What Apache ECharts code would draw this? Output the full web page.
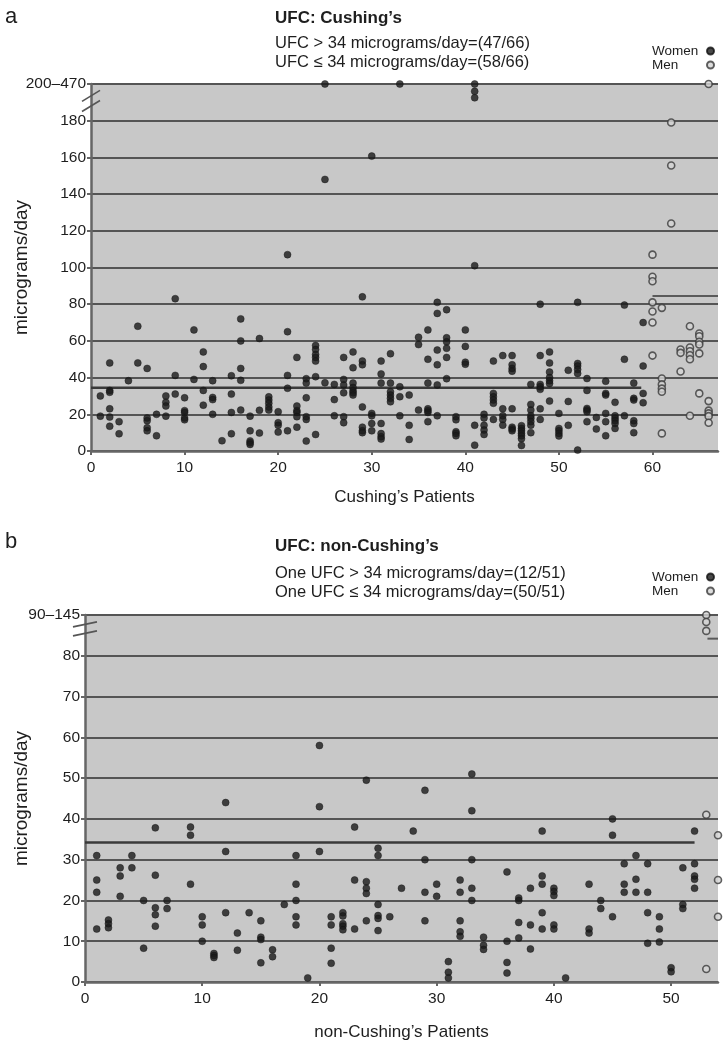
<!DOCTYPE html>
<html>
<head>
<meta charset="utf-8">
<script src="https://cdn.jsdelivr.net/npm/echarts@6/dist/echarts.min.js"></script>
<style>
html,body{margin:0;padding:0;background:#fff;}
#chart{width:728px;height:1050px;}
</style>
</head>
<body>
<div id="chart"></div>
<script>
// ---------- DATA ----------
// Panel a: Cushing's patients. Each entry: [patient, [UFC values]]; 200 = plotted at the 200–470 break line
const cushingWomen = [
  [1,[30,19]],[2,[48,33,32,23,18.5,13.5]],[3,[16,9.4]],[4,[38.3]],[5,[68,48]],
  [6,[45,18,16.5,12.7,11]],[7,[20,8.3]],[8,[30,26.5,24.5,19]],[9,[83,41.2,31]],
  [10,[29,22,21,18,17]],[11,[66,39]],[12,[54,46,33,25]],[13,[38.3,29.2,28,20]],
  [14,[5.6]],[15,[41,31,21,9.4]],[16,[72,60,45,38.5,22.3]],[17,[19,11,5.5,4.5,3.6]],
  [18,[61.3,22.2,9.8]],[19,[29.5,27.8,26,24,22.3]],[20,[21.4,15.4,14,10.3]],
  [21,[107,65,41.2,34.2,11]],[22,[51,24.5,22,21,18.7,13]],[23,[39.4,37,29,18.7,17.2,5.4]],
  [24,[57.5,55.3,52.6,51,49,40.5,9]],[25,[200,148,37.2]],[26,[36.3,28,19.2]],
  [27,[51,39,36,31.7,18.7,15.4]],[28,[54,45.4,37,34.6,32.8,31.7,30.5]],
  [29,[84,49,47,24,13,11,10]],[30,[160.7,20.5,19.2,15,11]],[31,[49,42,37,15,9.5,7.8,6.5]],
  [32,[53,37,32.3,30.5,28.7,26.8]],[33,[200,35,29.6,19.2]],[34,[30.5,14,6.3]],
  [35,[62,58,22.3]],[36,[66,50,37,23,22,21,16]],[37,[81,75,55,47,36,19.2]],
  [38,[77,61.7,59.5,56,51,39.4]],[39,[18.7,17,10.5,9.6,8.3]],[40,[66,57,48.4,47.3]],
  [41,[200,196,192.5,101,14,3.2]],[42,[20,18,14,11.4,9]],[43,[49,31.4,29.5,27.8,26,17.2]],
  [44,[52,23,19.2,17.2,14.1]],[45,[52,47,45,43.5,23,13,12,11]],[46,[13.8,12.3,11,9.6,8.3,6.7,3]],
  [47,[36.3,25.4,22.3,19.2,17.8,16,14.1,10]],[48,[80,52,36.3,35,33.6,23,17.2]],
  [49,[54,48,43,40,38.3,36.8,27.2]],[50,[20.5,12.3,11,9.6,8.2]],[51,[44,27,14]],
  [52,[81,47.7,46.3,44.4,42.3,0.5]],[53,[39.5,33,23.2,22.3,21.4,16]],[54,[18.3,12]],
  [55,[38,31.4,30.5,20.5,16,8.3]],[56,[26.5,19.2,17.8,16.5,15,12.3]],[57,[79.5,50,19.2]],
  [58,[37,28.7,27.8,16.5,15,10]],[59,[70,46.3,31.4,26.3]]
];
const cushingMen = [
  [60,[107,95,92.5,81,76,70,52]],[61,[78,39.5,36.3,34,32.3,9.6]],[62,[179,155.6,124]],
  [63,[55.3,53.5,43.3]],[64,[68,56.4,54.4,52.2,50,19.2]],[65,[64,62.5,59.5,58,53.2,31.4]],
  [66,[200,27.2,22,20.5,19,15.4]]
];
const cushingWomenCut = [[0,34.5],[58.8,34.5]];
const cushingMenCut = [[60,84.5],[67,84.5]];
const cushingYTicks = {max:200, interval:20, breakLabel:'200–470'};
const cushingXMax = 67;

// Panel b: non-Cushing's patients; 90 = plotted at the 90–145 break line
const nonCushingWomen = [
  [1,[31,25,22,13]],[2,[15.2,14.3,13.3]],[3,[28,26,21]],[4,[31,28]],[5,[20,8.3]],
  [6,[37.8,26.2,18.2,16.5,13.7]],[7,[20,18]],[9,[38,36,24]],[10,[16,14,10]],
  [11,[7,6.5,6]],[12,[44,32,17]],[13,[12,7.8]],[14,[17]],[15,[15,11,10.4,4.7]],
  [16,[7.9,6.2]],[17,[19]],[18,[31,24,20,16,14]],[19,[1]],[20,[58,43,32]],
  [21,[16,14,8.3,4.6]],[22,[17,16.2,14.3,13.7,12.8]],[23,[38,25,13]],
  [24,[49.5,24.6,23,21.7,15]],[25,[32.8,31,19,16.3,15.6,12.6]],[26,[16]],[27,[23]],
  [28,[37]],[29,[47,30,22,15]],[30,[24,21]],[31,[5,2.4,1]],[32,[25,22,15,12.3,11.2]],
  [33,[51,42,30,23,20]],[34,[11,9,8]],[36,[27,10,4.8,2.2]],[37,[20.6,20,14.6,10.8]],
  [38,[23,14,8.1]],[39,[37,26,24,17,13]],[40,[23,22.2,21.2,14,13]],[41,[1]],
  [43,[24,13,12]],[44,[20,18]],[45,[40,36,16]],[46,[29,24,22]],[47,[31,25.2,22]],
  [48,[29,22,17,9.5]],[49,[16,13,9.8]],[50,[3.5,2.5]],[51,[28,19,18]],[52,[37,29,26,25.2,23]]
];
const nonCushingMen = [[53,[90,88.3,86.1,41,3.2]],[54,[36,25,16]]];
const nonCushingWomenCut = [[0,34.2],[52,34.2]];
const nonCushingMenCut = [[53.1,84.2],[54,84.2]];
const nonCushingYTicks = {max:90, interval:10, breakLabel:'90–145'};
const nonCushingXMax = 54;

// ---------- helpers ----------
function flat(list){ const out=[]; list.forEach(([p,vals])=>vals.forEach(v=>out.push([p,v]))); return out; }

const FONT = '"Liberation Sans", Arial, sans-serif';
const TXT = '#1e1e1e';
const GRIDC = '#555';
const womenStyle = {color:'#1a1a1a', borderColor:'#111', borderWidth:0.5};
const menStyle = {color:'#d4d4d4', borderColor:'#3a3a3a', borderWidth:1.6};

function yAxisCfg(gi, t, gap){
  return {
    gridIndex:gi, type:'value', min:0, max:t.max, interval:t.interval,
    name:'micrograms/day', nameLocation:'middle', nameGap:gap, nameMoveOverlap:false,
    nameTextStyle:{fontFamily:FONT, fontSize:19, color:TXT},
    axisLine:{show:true, lineStyle:{color:'#666', width:2.5}},
    axisTick:{show:true, length:4, lineStyle:{color:'#666', width:2}},
    axisLabel:{fontFamily:FONT, fontSize:15.5, color:TXT, margin:5,
      formatter:v => v===t.max ? t.breakLabel : String(v)},
    splitLine:{show:true, lineStyle:{color:GRIDC, width:2}}
  };
}
function xAxisCfg(gi, max, name, gap){
  return {
    gridIndex:gi, type:'value', min:0, max:max, interval:10,
    name:name, nameLocation:'middle', nameGap:gap, nameMoveOverlap:false,
    nameTextStyle:{fontFamily:FONT, fontSize:17, color:TXT},
    axisLine:{show:true, onZero:false, lineStyle:{color:'#666', width:2.5}},
    axisTick:{show:true, length:4, lineStyle:{color:'#666', width:2}},
    axisLabel:{fontFamily:FONT, fontSize:15.5, color:TXT, margin:9,
      formatter:v => v>=max ? '' : String(v), showMaxLabel:false},
    splitLine:{show:false}
  };
}
function seriesFor(gi, women, men, wCut, mCut){
  return [
    {name:'Women', type:'scatter', xAxisIndex:gi, yAxisIndex:gi, data:flat(women),
     symbol:'circle', symbolSize:7, itemStyle:womenStyle, clip:false, z:5},
    {name:'Men', type:'scatter', xAxisIndex:gi, yAxisIndex:gi, data:flat(men),
     symbol:'circle', symbolSize:7, itemStyle:menStyle, clip:false, z:5},
    {type:'line', xAxisIndex:gi, yAxisIndex:gi, data:wCut, symbol:'none', silent:true,
     lineStyle:{color:'#3a3a3a', width:2.5}, z:4},
    {type:'line', xAxisIndex:gi, yAxisIndex:gi, data:mCut, symbol:'none', silent:true,
     lineStyle:{color:'#5a5a5a', width:2}, z:4}
  ];
}
function legendCfg(top){
  return {
    data:['Women','Men'], orient:'vertical', align:'right', right:13, top:top, padding:0,
    itemWidth:7, itemHeight:7, itemGap:0, icon:'circle', selectedMode:false,
    formatter:name => '{t|' + name + '}',
    textStyle:{fontFamily:FONT, fontSize:13.5, color:TXT, lineHeight:13,
      rich:{t:{fontFamily:FONT, fontSize:13.5, color:TXT, width:50, align:'left', lineHeight:13}}}
  };
}
function titleCfg(text, left, top, size, weight, lh){
  return {text:text, left:left, top:top, padding:0, itemGap:0,
    textStyle:{fontFamily:FONT, fontSize:size, fontWeight:weight, color:TXT, lineHeight:lh||size*1.2}};
}

const chart = echarts.init(document.getElementById('chart'), null, {renderer:'canvas'});
chart.setOption({
  backgroundColor:'#ffffff',
  animation:false,
  title:[
    titleCfg('a', 5, 4, 22, 'normal'),
    titleCfg('UFC: Cushing’s', 275, 8, 17, 'bold'),
    titleCfg('UFC > 34 micrograms/day=(47/66)\nUFC ≤ 34 micrograms/day=(58/66)', 275, 34, 16.5, 'normal', 19),
    titleCfg('b', 5, 529, 22, 'normal'),
    titleCfg('UFC: non-Cushing’s', 275, 536, 17, 'bold'),
    titleCfg('One UFC > 34 micrograms/day=(12/51)\nOne UFC ≤ 34 micrograms/day=(50/51)', 275, 564, 16.5, 'normal', 19)
  ],
  legend:[legendCfg(44), legendCfg(570)],
  grid:[
    {left:91, top:84, width:627, height:367, show:true, backgroundColor:'#c8c8c8', borderWidth:0,
     containLabel:false, outerBoundsMode:'none'},
    {left:85, top:615, width:633, height:367, show:true, backgroundColor:'#c8c8c8', borderWidth:0,
     containLabel:false, outerBoundsMode:'none'}
  ],
  xAxis:[xAxisCfg(0, cushingXMax, 'Cushing’s Patients', 38), xAxisCfg(1, nonCushingXMax, 'non-Cushing’s Patients', 42)],
  yAxis:[yAxisCfg(0, cushingYTicks, 60), yAxisCfg(1, nonCushingYTicks, 54)],
  series:[].concat(
    seriesFor(0, cushingWomen, cushingMen, cushingWomenCut, cushingMenCut),
    seriesFor(1, nonCushingWomen, nonCushingMen, nonCushingWomenCut, nonCushingMenCut)
  )
});

// axis-break marks ("//") on the y axes, positioned through the axes' own scales
function breakMarks(gi, vals, dx, dy){
  return vals.map(v => {
    const p = chart.convertToPixel({gridIndex:gi}, [0, v]);
    return {type:'line', z:100, shape:{x1:p[0]-dx, y1:p[1]+dy, x2:p[0]+dx, y2:p[1]-dy},
      style:{stroke:'#555', lineWidth:1.6}};
  });
}
chart.setOption({graphic:[].concat(
  breakMarks(0, [193.5, 188], 9, 5.5),
  breakMarks(1, [87.7, 85.5], 12, 2.5)
)});
</script>
</body>
</html>
